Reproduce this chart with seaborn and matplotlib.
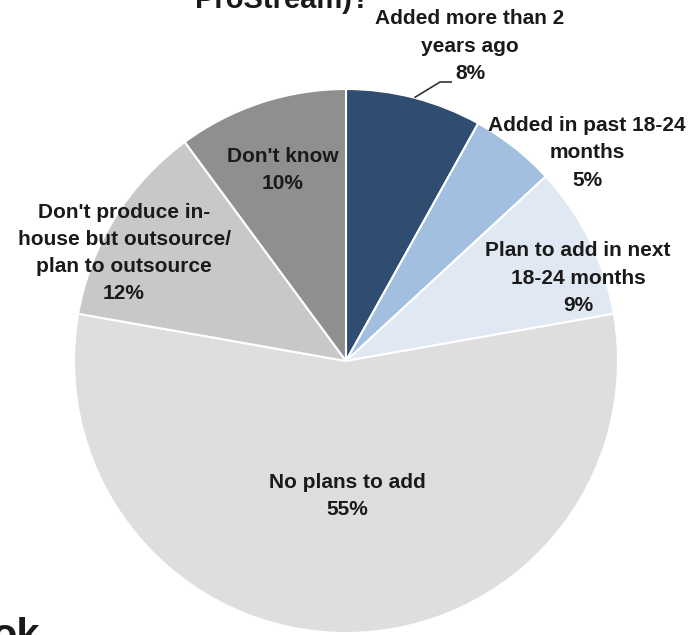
import numpy as np
import matplotlib
matplotlib.use("Agg")
import matplotlib.pyplot as plt
import seaborn as sns

# Survey answers, clockwise from 12 o'clock
categories = [
    "Added more than 2\nyears ago",
    "Added in past 18-24\nmonths",
    "Plan to add in next\n18-24 months",
    "No plans to add",
    "Don't produce in-\nhouse but outsource/\nplan to outsource",
    "Don't know",
]
shares = [8, 5, 9, 55, 12, 10]
colors = ["#2e4d70", "#a3bfe0", "#e0e9f3", "#dedede", "#c8c8c8", "#8f8f8f"]

sns.set_theme(style="white")
plt.rcParams["font.family"] = ["Liberation Sans", "DejaVu Sans"]

W, H = 692, 635
fig = plt.figure(figsize=(W / 100, H / 100), dpi=100)
ax = fig.add_axes([0, 0, 1, 1])

def py(y):
    """Convert a top-down pixel row into axis y."""
    return H - y

cx, cy, r = 346, 361, 272
wedges, _ = ax.pie(
    shares, colors=colors, startangle=90, counterclock=False,
    center=(cx, py(cy)), radius=r, frame=True,
    wedgeprops=dict(edgecolor="white", linewidth=1.5),
)
ax.set_xlim(0, W)
ax.set_ylim(0, H)
ax.set_aspect("equal")
ax.axis("off")

# label anchors (pixel coordinates, top-down)
label_xy = [(470, 46), (587, 153), (578, 278), (347, 496), (124, 253), (283, 170)]
for name, val, (lx, ly) in zip(categories, shares, label_xy):
    ax.text(lx, py(ly), f"{name}\n{val}%", ha="center", va="center",
            fontsize=15, fontweight="bold", color="#1a1a1a", linespacing=1.55)

# leader line for the first slice
w0 = wedges[0]
mid = np.deg2rad((w0.theta1 + w0.theta2) / 2)
sx, sy = cx + r * np.cos(mid), py(cy) + r * np.sin(mid)
ax.plot([sx, 440, 452], [sy, py(82), py(82)], color="#333333", lw=1.2,
        solid_capstyle="butt")

# title, last line running off the top edge
ax.text(282, py(8), "ProStream)?", ha="center", va="baseline",
        fontsize=21, fontweight="bold", color="#1a1a1a", clip_on=False)
# logo text running off the bottom edge
ax.text(40, py(648), "ok", ha="right", va="baseline",
        fontsize=30, fontweight="bold", color="#1a1a1a", clip_on=False)

fig.savefig("out.png", dpi=100)
